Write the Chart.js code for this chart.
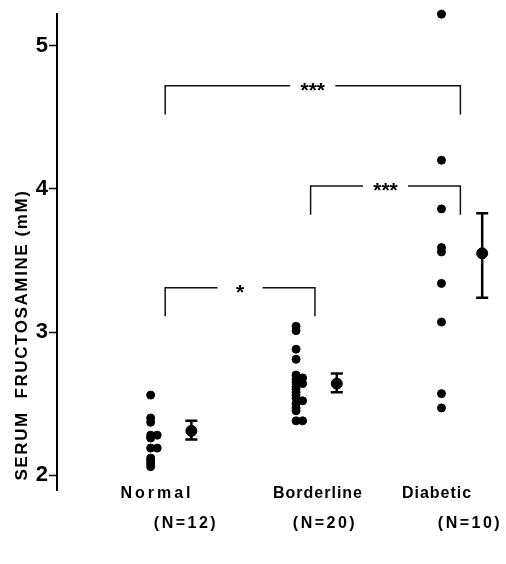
<!DOCTYPE html>
<html lang="en">
<head>
    <meta charset="UTF-8">
    <title>Serum Fructosamine</title>
    <script src="https://cdn.jsdelivr.net/npm/chart.js"></script>
    <style>
        body { margin: 0; padding: 0; background: white; }
        canvas { display: block; }
    </style>
</head>
<body>
    <canvas id="fructChart" width="506" height="564"></canvas>

    <script>
        // groups along the x axis
        const groups = ['Normal', 'Borderline', 'Diabetic'];
        const groupN = ['(N=12)', '(N=20)', '(N=10)'];

        // individual values (mM), with a small side-step where dots overlap
        const normalVals = [2.56, 2.40, 2.37, 2.28, 2.28, 2.26, 2.19, 2.19, 2.12, 2.10, 2.08, 2.06];
        const normalStep = [0, 0, 0, 0, 1, 0, 0, 1, 0, 0, 0, 0];
        const borderVals = [3.04, 3.01, 2.88, 2.81, 2.70, 2.68, 2.67, 2.65, 2.64, 2.62,
                            2.60, 2.58, 2.56, 2.54, 2.52, 2.50, 2.47, 2.45, 2.38, 2.38];
        const borderStep = [0, 0, 0, 0, 0, 1, 0, 0, 1, 0, 0, 0, 0, 0, 1, 0, 0, 0, 0, 1];
        const diabVals = [5.22, 4.20, 3.86, 3.59, 3.56, 3.34, 3.07, 2.57, 2.47];
        const diabStep = [0, 0, 0, 0, 0, 0, 0, 0, 0];

        // mean +/- SEM
        const means = [2.31, 2.64, 3.55];
        const semHi = [2.38, 2.71, 3.83];
        const semLo = [2.25, 2.58, 3.24];

        // significance brackets
        const bracketFrom = [1, 2, 1];
        const bracketTo = [3, 3, 2];
        const bracketLevel = [4.72, 4.02, 3.31];
        const bracketMark = ['***', '***', '*'];

        const yTicks = [2, 3, 4, 5];

        const STEP = 0.045;
        const MEAN_OFFSET = 0.28;

        function dots(vals, steps, g) {
            return vals.map((v, i) => ({ x: g + steps[i] * STEP, y: v }));
        }

        function bracket(i) {
            const left = bracketFrom[i] + 0.1;
            const right = bracketTo[i] + 0.13;
            const mid = (left + right) / 2;
            const lvl = bracketLevel[i];
            const drop = 0.2;
            return [
                { x: left, y: lvl - drop }, { x: left, y: lvl }, { x: mid - 0.155, y: lvl },
                { x: mid, y: null },
                { x: mid + 0.155, y: lvl }, { x: right, y: lvl }, { x: right, y: lvl - drop }
            ];
        }

        const dotStyle = {
            type: 'scatter', backgroundColor: '#000', borderColor: '#000',
            pointRadius: 4, pointHoverRadius: 4, clip: false
        };

        const datasets = [
            Object.assign({ data: dots(normalVals, normalStep, 1) }, dotStyle),
            Object.assign({ data: dots(borderVals, borderStep, 2) }, dotStyle),
            Object.assign({ data: dots(diabVals, diabStep, 3) }, dotStyle),
            Object.assign({}, dotStyle, {
                data: means.map((m, i) => ({ x: i + 1 + MEAN_OFFSET, y: m })),
                pointRadius: 5.5
            })
        ];
        bracketMark.forEach((m, i) => {
            datasets.push({
                type: 'line', data: bracket(i), borderColor: '#111', borderWidth: 1.5,
                pointRadius: 0, spanGaps: false, fill: false, clip: false
            });
        });

        const FONT = '"Liberation Sans", Arial, sans-serif';

        // error bars, significance marks and text labels
        const extras = {
            id: 'extras',
            afterDatasetsDraw(chart) {
                const { ctx, scales: { x, y } } = chart;
                ctx.save();
                ctx.strokeStyle = '#000';
                ctx.lineWidth = 2.5;
                means.forEach((m, i) => {
                    const px = x.getPixelForValue(i + 1 + MEAN_OFFSET);
                    const top = y.getPixelForValue(semHi[i]);
                    const bot = y.getPixelForValue(semLo[i]);
                    ctx.beginPath();
                    ctx.moveTo(px, top); ctx.lineTo(px, bot);
                    ctx.moveTo(px - 6, top); ctx.lineTo(px + 6, top);
                    ctx.moveTo(px - 6, bot); ctx.lineTo(px + 6, bot);
                    ctx.stroke();
                });

                ctx.fillStyle = '#000';
                ctx.font = 'bold 21px ' + FONT;
                ctx.textAlign = 'center';
                ctx.textBaseline = 'alphabetic';
                bracketMark.forEach((m, i) => {
                    const mid = (bracketFrom[i] + 0.1 + bracketTo[i] + 0.13) / 2;
                    ctx.fillText(m, x.getPixelForValue(mid), y.getPixelForValue(bracketLevel[i]) + 11);
                });

                // group labels
                ctx.textBaseline = 'middle';
                ctx.font = 'bold 16px ' + FONT;
                const nameX = [157, 318, 437];
                const nX = [186, 325, 470];
                groups.forEach((g, i) => {
                    ctx.letterSpacing = i === 0 ? '3px' : '1px';
                    ctx.fillText(g, nameX[i], 494);
                    ctx.letterSpacing = '2.5px';
                    ctx.fillText(groupN[i], nX[i], 524);
                });

                // y axis title
                ctx.letterSpacing = '1.6px';
                ctx.font = 'bold 17px ' + FONT;
                ctx.translate(22, 335);
                ctx.rotate(-Math.PI / 2);
                ctx.fillText('SERUM  FRUCTOSAMINE (mM)', 0, 0);
                ctx.restore();
            }
        };

        const ctx = document.getElementById('fructChart').getContext('2d');
        new Chart(ctx, {
            data: { datasets: datasets },
            options: {
                responsive: false,
                animation: false,
                maintainAspectRatio: false,
                layout: { padding: { top: 8, bottom: 74, right: 0, left: 0 } },
                plugins: { legend: { display: false }, tooltip: { enabled: false } },
                scales: {
                    x: {
                        type: 'linear', min: 0.356, max: 3.399, display: false
                    },
                    y: {
                        type: 'linear', min: 1.897, max: 5.22,
                        afterFit(scale) { scale.width = 57; },
                        afterBuildTicks(scale) { scale.ticks = yTicks.map(v => ({ value: v })); },
                        border: { display: true, color: '#000', width: 2 },
                        grid: { drawOnChartArea: false, tickLength: 8, color: '#000', tickWidth: 1.5 },
                        ticks: {
                            color: '#000', padding: 1,
                            font: { family: FONT, size: 22, weight: 'bold' }
                        }
                    }
                }
            },
            plugins: [extras]
        });
    </script>
</body>
</html>
